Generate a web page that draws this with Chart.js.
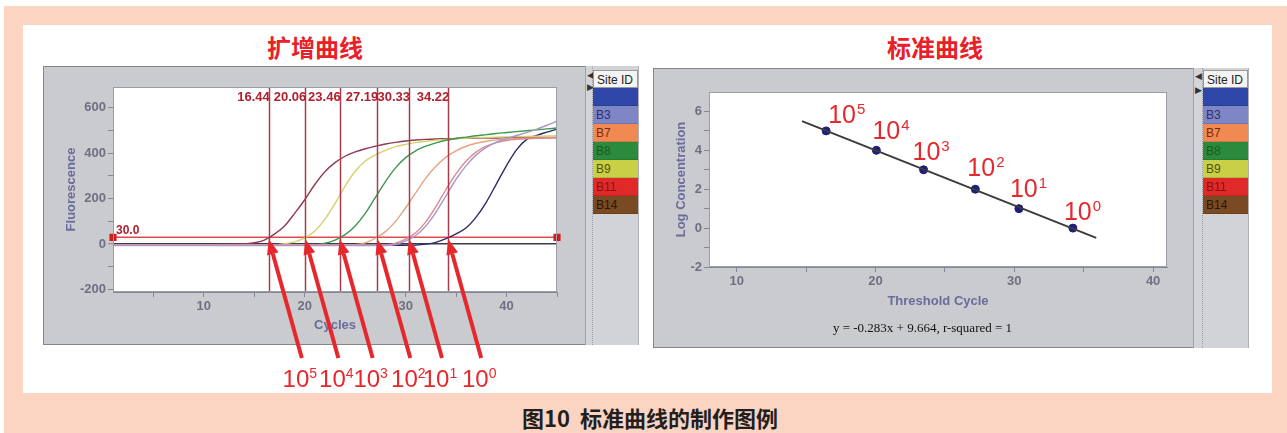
<!DOCTYPE html>
<html>
<head>
<meta charset="utf-8">
<script src="https://cdn.jsdelivr.net/npm/chart.js@4.4.1/dist/chart.umd.min.js"></script>
<style>
  body { margin: 0; width: 1287px; height: 433px; background: #fff; position: relative; overflow: hidden; font-family: 'Liberation Sans', Arial, sans-serif; }
  .abs { position: absolute; }
  .frame { left: 4px; top: 6px; width: 1283px; height: 427px; background: #fbd4c2; }
  .inner { left: 23px; top: 25px; width: 1249px; height: 368px; background: #fff; }
  .title { font: bold 24px 'Noto Sans CJK SC', sans-serif; color: #e8202a; top: 31px; line-height: 32px; text-align: center; width: 200px; }
  .caption { left: 450px; width: 400px; top: 402px; font: bold 22px 'Noto Sans CJK SC', sans-serif; color: #231f20; text-align: center; line-height: 30px; }
  .panel { background: #cacbcf; border: 1px solid #85868b; box-sizing: border-box; }
  .sep { background: #d3d4d8; border-left: 1px solid #a0a0a6; border-right: 1px dotted #9a9aa0; box-sizing: border-box; }
  .sep span { position: absolute; left: 1px; font-size: 9px; color: #333; line-height: 10px; }
  .legend { background: #d2d3d7; border-right: 1px solid #b0b0b5; box-sizing: border-box; }
  .row { height: 18px; line-height: 18px; font-size: 12px; padding-left: 3px; border-bottom: 1px solid rgba(0,0,0,0.12); box-sizing: border-box; white-space: nowrap; overflow: hidden; }
  .hdr { background: #f4f4f4; color: #222; border: 1px solid #999; }
  canvas { position: absolute; }
  .eq { left: 800px; width: 245px; top: 320px; text-align: center; font: 13px 'Liberation Serif', 'Times New Roman', serif; color: #111; }
</style>
</head>
<body>
<div class="abs frame"></div>
<div class="abs inner"></div>
<div class="abs title" style="left:215px">扩增曲线</div>
<div class="abs title" style="left:835px">标准曲线</div>
<div class="abs caption">图10&nbsp;&nbsp;标准曲线的制作图例</div>

<div class="abs panel" style="left:43px;top:66px;width:543px;height:279px"></div>
<div class="abs sep" style="left:585px;top:66px;width:8px;height:279px"><span style="top:4px">◀</span><span style="top:16px">▶</span></div>
<div class="abs legend" id="legL" style="left:593px;top:66px;width:46px;height:279px;padding-top:4px"></div>

<div class="abs panel" style="left:653px;top:68px;width:541px;height:280px"></div>
<div class="abs sep" style="left:1193px;top:68px;width:10px;height:280px"><span style="top:3px">◀</span><span style="top:17px">▶</span></div>
<div class="abs legend" id="legR" style="left:1203px;top:68px;width:46px;height:280px;padding-top:2px"></div>

<canvas id="amp" width="545" height="330" style="left:43px;top:66px"></canvas>
<canvas id="std" width="540" height="280" style="left:653px;top:68px"></canvas>
<div class="abs eq">y = -0.283x + 9.664, r-squared = 1</div>

<script>
// ---- amplification data (fluorescence per cycle) ----
const cycles = [1,2,3,4,5,6,7,8,9,10,11,12,13,14,15,16,17,18,19,20,21,22,23,24,25,26,27,28,29,30,31,32,33,34,35,36,37,38,39,40,41,42,43,44,45]

const fluB14 = [-2,-2,-2,-2,-2,-2,-2,-2,-2,-2,-2,-1,0,2,6,18,44,80,135,195,262,318,358,386,405,419,430,440,447,453,457,460,462,463,464,465,465,466,466,467,467,467,468,468,468]
const fluB9 = [-3,-3,-3,-3,-3,-3,-3,-3,-3,-3,-3,-3,-3,-3,-3,-3,-3,2,10,28,58,110,178,255,320,365,392,412,428,438,446,452,457,460,463,465,467,468,470,471,472,473,474,475,476]
const fluB8 = [-3,-3,-3,-3,-3,-3,-3,-3,-3,-3,-3,-3,-3,-3,-3,-3,-3,-3,-3,-3,-3,4,18,42,80,135,205,275,335,380,410,430,445,456,464,470,476,481,486,490,494,498,502,506,510]
const fluB7 = [-2,-2,-2,-2,-2,-2,-2,-2,-2,-2,-2,-2,-2,-2,-2,-2,-2,-2,-2,-2,-2,-2,-2,-2,-2,6,26,55,100,160,225,290,342,382,410,430,443,452,458,462,464,465,466,467,468]
const fluB11 = [-3,-3,-3,-3,-3,-3,-3,-3,-3,-3,-3,-3,-3,-3,-3,-3,-3,-3,-3,-3,-3,-3,-3,-3,-3,-3,-3,-3,4,22,50,98,165,240,310,365,405,430,446,455,460,463,465,466,467]
const fluBlue = [-5,-5,-5,-5,-5,-5,-5,-5,-5,-5,-5,-5,-5,-5,-5,-5,-5,-5,-5,-5,-5,-5,-5,-5,-5,-5,-5,-5,-5,-5,-4,0,8,24,45,72,120,185,265,345,415,460,478,492,505]
const fluB3 = [-6,-6,-6,-6,-6,-6,-6,-6,-6,-6,-6,-6,-6,-6,-6,-6,-6,-6,-6,-6,-6,-6,-6,-6,-6,-6,-6,-6,-2,14,38,80,140,212,285,345,392,425,448,464,477,490,505,522,540]

const threshold = 30
const ctValues = [16.44, 20.06, 23.46, 27.19, 30.33, 34.22]
const ctLabels = ['16.44', '20.06', '23.46', '27.19', '30.33', '34.22']
const expLabels = ['5', '4', '3', '2', '1', '0']

// ---- standard curve data ----
const logConc = [5, 4, 3, 2, 1, 0]
const fitX = [14.7, 35.9]
const fitY = [5.5, -0.5]

// ---- axis ticks ----
const ampXTicks = [5, 10, 15, 20, 25, 30, 35, 40, 45]
const ampYTicks = [-200, -100, 0, 100, 200, 300, 400, 500, 600]
const stdXTicks = [10, 15, 20, 25, 30, 35, 40]
const stdYTicks = [-2, -1, 0, 1, 2, 3, 4, 5, 6]

// ---- legend ----
const siteIds = ['', 'B3', 'B7', 'B8', 'B9', 'B11', 'B14']
const siteColors = ['#2f48a8', '#7f86c6', '#f08a52', '#2c8a3c', '#c9d046', '#e02a2a', '#7a4a22']
const siteText = ['#1a2a80', '#2a3070', '#7a2a10', '#1a5a22', '#505010', '#8a1010', '#2a1606']

function buildLegend(id) {
  const el = document.getElementById(id)
  el.innerHTML = '<div class="row hdr">Site ID</div>' + siteIds.map((s, i) =>
    `<div class="row" style="background:${siteColors[i]};color:${siteText[i]}">${s}</div>`).join('')
}
buildLegend('legL')
buildLegend('legR')

const tickFont = { family: 'Liberation Sans', size: 13, weight: 'bold' }
const titleFont = { family: 'Liberation Sans', size: 13, weight: 'bold' }
const tickColor = '#6e6f82'
const axisTitleColor = '#6a6c9c'

const plotBg = {
  id: 'plotBg',
  beforeDraw(chart) {
    const { ctx, chartArea: a } = chart
    ctx.save()
    ctx.fillStyle = '#fff'
    ctx.fillRect(a.left, a.top, a.right - a.left, a.bottom - a.top)
    ctx.restore()
  },
  afterDraw(chart) {
    const { ctx, chartArea: a } = chart
    ctx.save()
    ctx.strokeStyle = '#9c9ca8'
    ctx.lineWidth = 1
    ctx.strokeRect(a.left + 0.5, a.top + 0.5, a.right - a.left - 1, a.bottom - a.top - 1)
    ctx.restore()
  }
}

const toXY = (vals) => cycles.map((c, i) => ({ x: c, y: vals[i] }))

/* ---- Ct markers, labels and arrows ---- */
const ctMarks = {
  id: 'ctMarks',
  afterDatasetsDraw(chart) {
    const { ctx, chartArea: a, scales: { x, y } } = chart
    ctx.save()
    ctx.strokeStyle = '#a83c4c'
    ctx.lineWidth = 1.5
    ctValues.forEach(v => {
      const px = Math.round(x.getPixelForValue(v)) + 0.5
      ctx.beginPath()
      ctx.moveTo(px, a.top)
      ctx.lineTo(px, a.bottom)
      ctx.stroke()
    })
    ctx.fillStyle = '#b0202e'
    ctx.font = 'bold 13px Liberation Sans'
    ctx.textAlign = 'right'
    ctx.textBaseline = 'middle'
    ctValues.forEach((v, i) => {
      ctx.fillText(ctLabels[i], x.getPixelForValue(v) + 1, a.top + 10)
    })
    ctx.textAlign = 'left'
    ctx.textBaseline = 'alphabetic'
    ctx.font = 'bold 12px Liberation Sans'
    ctx.fillText(threshold.toFixed(1), a.left + 3, y.getPixelForValue(threshold) - 3)
    ctx.restore()
  },
  afterDraw(chart) {
    const { ctx, chartArea: a, scales: { x, y } } = chart
    const ty = y.getPixelForValue(threshold) + 2
    ctx.save()
    ctx.strokeStyle = '#e6282c'
    ctx.fillStyle = '#e6282c'
    ctx.lineWidth = 4
    ctValues.forEach((v, i) => {
      const tx = x.getPixelForValue(v)
      const sx = tx + 33
      const sy = a.bottom + 66
      const ang = Math.atan2(ty - sy, tx - sx)
      const hl = 15, hw = 6
      const bx = tx - hl * Math.cos(ang), by = ty - hl * Math.sin(ang)
      ctx.beginPath()
      ctx.moveTo(sx, sy)
      ctx.lineTo(bx, by)
      ctx.stroke()
      ctx.beginPath()
      ctx.moveTo(tx, ty)
      ctx.lineTo(bx + hw * Math.sin(ang), by - hw * Math.cos(ang))
      ctx.lineTo(bx - hw * Math.sin(ang), by + hw * Math.cos(ang))
      ctx.closePath()
      ctx.fill()
      // exponent label under the arrow tail
      ctx.font = '24px Liberation Sans'
      const w = ctx.measureText('10').width
      ctx.font = '14px Liberation Sans'
      const ws = ctx.measureText(expLabels[i]).width
      const lx = sx - (w + ws) / 2 - 2
      const ly = a.bottom + 95
      ctx.font = '24px Liberation Sans'
      ctx.fillText('10', lx, ly)
      ctx.font = '14px Liberation Sans'
      ctx.fillText(expLabels[i], lx + w, ly - 9)
    })
    ctx.restore()
  }
}

function curve(label, vals, color) {
  return { label, data: toXY(vals), borderColor: color, borderWidth: 1.4, pointRadius: 0, cubicInterpolationMode: 'monotone' }
}

new Chart(document.getElementById('amp'), {
  type: 'line',
  data: {
    datasets: [
      curve('B3', fluB3, '#a898cc'),
      curve('B11', fluB11, '#dc8a8e'),
      curve('B7', fluB7, '#e8a282'),
      curve('B8', fluB8, '#3e9852'),
      curve('B9', fluB9, '#d8d06c'),
      curve('B14', fluB14, '#8e3a56'),
      curve('Blue', fluBlue, '#2c2a6c'),
      {
        label: 'Threshold',
        data: [{ x: cycles[0], y: threshold }, { x: cycles[cycles.length - 1], y: threshold }],
        borderColor: '#e24a4a', borderWidth: 1.5,
        pointRadius: 4, pointStyle: 'rect', pointBackgroundColor: '#d41c1c', pointBorderColor: '#d41c1c',
        clip: false
      }
    ]
  },
  options: {
    responsive: false,
    animation: false,
    devicePixelRatio: 1,
    layout: { padding: { left: 17, top: 21, right: 31, bottom: 59 } },
    plugins: { legend: { display: false }, tooltip: { enabled: false } },
    scales: {
      x: {
        type: 'linear', min: 1, max: 45,
        afterBuildTicks: s => { s.ticks = ampXTicks.map(v => ({ value: v })) },
        afterFit: s => { s.height = 45 },
        border: { color: '#86869a', width: 1 },
        grid: { drawOnChartArea: false, tickLength: 5, color: '#86869a' },
        ticks: { autoSkip: false, maxRotation: 0, padding: 2, color: tickColor, font: tickFont, callback: v => v % 10 === 0 ? v : '' },
        title: { display: true, text: 'Cycles', color: axisTitleColor, font: titleFont }
      },
      y: {
        min: -210, max: 690,
        afterBuildTicks: s => { s.ticks = ampYTicks.map(v => ({ value: v })) },
        afterFit: s => { s.width = 53 },
        border: { color: '#86869a', width: 1 },
        grid: {
          tickLength: 5,
          color: c => c.tick && c.tick.value === 0 ? '#3c3c46' : 'rgba(0,0,0,0)',
          lineWidth: c => c.tick && c.tick.value === 0 ? 1.5 : 1,
          tickColor: '#86869a', tickWidth: 1
        },
        ticks: { autoSkip: false, padding: 2, color: tickColor, font: tickFont, callback: v => v % 200 === 0 ? v : '' },
        title: { display: true, text: 'Fluorescence', color: axisTitleColor, font: titleFont }
      }
    }
  },
  plugins: [plotBg, ctMarks]
})

/* ---- Standard curve ---- */
const labelOffsets = [[2, -8], [-4, -11], [-11, -10], [-8, -13], [-9, -12], [-9, -8]]

const expMarks = {
  id: 'expMarks',
  afterDatasetsDraw(chart) {
    const { ctx, scales: { x, y } } = chart
    ctx.save()
    ctx.fillStyle = '#e6282c'
    ctValues.forEach((v, i) => {
      const px = x.getPixelForValue(v) + labelOffsets[i][0]
      const py = y.getPixelForValue(logConc[i]) + labelOffsets[i][1]
      ctx.font = '25px Liberation Sans'
      const w = ctx.measureText('10').width
      ctx.fillText('10', px, py)
      ctx.font = '15px Liberation Sans'
      ctx.fillText(expLabels[i], px + w + 1, py - 9)
    })
    ctx.restore()
  }
}

new Chart(document.getElementById('std'), {
  type: 'line',
  data: {
    datasets: [
      {
        label: 'Fit',
        data: fitX.map((v, i) => ({ x: v, y: fitY[i] })),
        borderColor: '#3c3c3c', borderWidth: 2, pointRadius: 0
      },
      {
        label: 'Standards',
        data: ctValues.map((v, i) => ({ x: v, y: logConc[i] })),
        showLine: false, pointRadius: 4, pointStyle: 'circle',
        pointBackgroundColor: '#1e1e7c', pointBorderColor: '#1e1e7c'
      }
    ]
  },
  options: {
    responsive: false,
    animation: false,
    devicePixelRatio: 1,
    layout: { padding: { left: 17, top: 24, right: 26, bottom: 35 } },
    plugins: { legend: { display: false }, tooltip: { enabled: false } },
    scales: {
      x: {
        type: 'linear', min: 8, max: 41,
        afterBuildTicks: s => { s.ticks = stdXTicks.map(v => ({ value: v })) },
        afterFit: s => { s.height = 46 },
        border: { color: '#86869a', width: 1 },
        grid: { drawOnChartArea: false, tickLength: 5, color: '#86869a' },
        ticks: { autoSkip: false, maxRotation: 0, padding: 2, color: tickColor, font: tickFont, callback: v => v % 10 === 0 ? v : '' },
        title: { display: true, text: 'Threshold Cycle', color: axisTitleColor, font: titleFont }
      },
      y: {
        min: -2, max: 7,
        afterBuildTicks: s => { s.ticks = stdYTicks.map(v => ({ value: v })) },
        afterFit: s => { s.width = 39 },
        border: { color: '#86869a', width: 1 },
        grid: { drawOnChartArea: false, tickLength: 5, color: '#86869a' },
        ticks: { autoSkip: false, padding: 2, color: tickColor, font: tickFont, callback: v => v % 2 === 0 ? v : '' },
        title: { display: true, text: 'Log Concentration', color: axisTitleColor, font: titleFont }
      }
    }
  },
  plugins: [plotBg, expMarks]
})
</script>
</body>
</html>
